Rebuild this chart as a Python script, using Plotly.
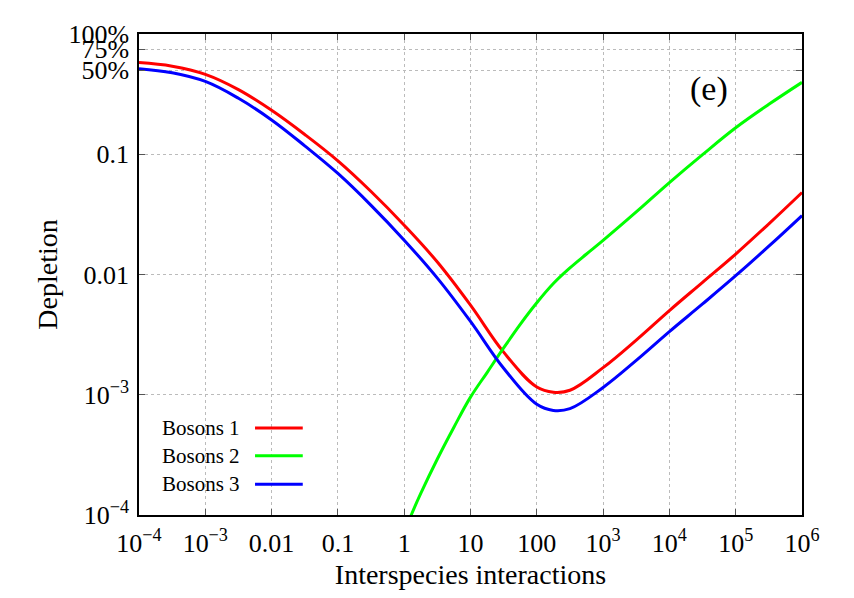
import plotly.graph_objects as go

# readings taken off the reference plot (log-log axes)
x_bosons = [1e-4, 10**-3.5, 1e-3, 10**-2.5, 1e-2, 10**-1.5, 0.1, 10**-0.5, 1,
            10**0.5, 10, 10**1.5, 100, 10**2.25, 10**2.5, 1e3, 10**3.5, 1e4,
            10**4.5, 1e5, 10**5.5, 1e6]
bosons_1 = [0.579, 0.540, 0.462, 0.345, 0.232, 0.146, 0.0881, 0.0490, 0.0257,
            0.0127, 0.00556, 0.00226, 0.00116, 0.00105, 0.00109, 0.00168,
            0.00285, 0.00501, 0.00861, 0.0148, 0.0264, 0.0481]
bosons_3 = [0.515, 0.476, 0.403, 0.292, 0.193, 0.1175, 0.0692, 0.0376, 0.0193,
            0.00933, 0.00407, 0.00166, 0.000832, 0.000741, 0.000767, 0.00115,
            0.00193, 0.00335, 0.00569, 0.00977, 0.0172, 0.0309]

x_bosons_2 = [1, 10**0.113, 10**0.25, 10**0.5, 10**0.75, 10, 10**1.25, 10**1.5,
              10**1.75, 100, 10**2.25, 10**2.5, 10**2.75, 1e3, 10**3.5, 1e4,
              10**4.5, 1e5, 10**5.5, 1e6]
bosons_2 = [7.1e-5, 1.02e-4, 1.51e-4, 2.92e-4, 5.37e-4, 9.55e-4, 0.00153, 0.00245,
            0.00385, 0.00582, 0.00841, 0.01135, 0.0148, 0.0192, 0.0331, 0.0581,
            0.0993, 0.166, 0.260, 0.396]

x_tickvals = [10.0**k for k in range(-4, 7)]
x_ticktext = ["10<sup>−4</sup>", "10<sup>−3</sup>", "0.01", "0.1", "1", "10", "100",
              "10<sup>3</sup>", "10<sup>4</sup>", "10<sup>5</sup>", "10<sup>6</sup>"]
y_tickvals = [1e-4, 1e-3, 0.01, 0.1, 0.5, 0.75, 1]
y_ticktext = ["10<sup>−4</sup>", "10<sup>−3</sup>", "0.01", "0.1", "50%", "75%", "100%"]

names = ["Bosons 1", "Bosons 2", "Bosons 3"]
colors = ["#ff0000", "#00ff00", "#0000ff"]
FONT = "Liberation Serif"

fig = go.Figure()
series = [(x_bosons, bosons_1), (x_bosons_2, bosons_2), (x_bosons, bosons_3)]
for (xs, ys), name, c in zip(series, names, colors):
    fig.add_trace(go.Scatter(x=xs, y=ys, name=name, mode="lines",
                             line=dict(color=c, width=3, shape="spline", smoothing=1.1),
                             showlegend=False))

# gnuplot-style key: label on the left, line sample on the right
legend_rows = [0.181, 0.123, 0.064]
for name, c, yy in zip(names, colors, legend_rows):
    fig.add_annotation(x=0.155, y=yy, xref="paper", yref="paper", text=name,
                       showarrow=False, xanchor="right", yanchor="middle",
                       font=dict(family=FONT, size=21, color="black"))
    fig.add_shape(type="line", xref="paper", yref="paper", x0=0.175, x1=0.247,
                  y0=yy, y1=yy, line=dict(color=c, width=3))

fig.add_annotation(x=0.86, y=0.885, xref="paper", yref="paper", text="(e)",
                   showarrow=False, xanchor="center", yanchor="middle",
                   font=dict(family=FONT, size=34, color="black"))

axis_common = dict(
    type="log", showline=True, linecolor="black", linewidth=1.5, mirror="allticks",
    ticks="inside", ticklen=6, tickcolor="#555555", showgrid=True,
    gridcolor="#bbbbbb", griddash="dot", gridwidth=1, zeroline=False,
    tickfont=dict(family=FONT, size=26, color="black"),
)

fig.update_xaxes(range=[-4, 6], tickvals=x_tickvals, ticktext=x_ticktext,
                 ticklabelstandoff=4,
                 title=dict(text="Interspecies interactions", standoff=7,
                            font=dict(family=FONT, size=28, color="black")),
                 **axis_common)
fig.update_yaxes(range=[-4, 0], tickvals=y_tickvals, ticktext=y_ticktext,
                 ticklabelstandoff=3,
                 title=dict(text="Depletion", standoff=3,
                            font=dict(family=FONT, size=28, color="black")),
                 **axis_common)

# the page body adds an 8px offset, so margins are trimmed to match
fig.update_layout(
    width=854, height=598,
    margin=dict(l=131, r=60, t=20, b=91),
    plot_bgcolor="white", paper_bgcolor="white",
    font=dict(family=FONT, color="black"),
)

fig.write_html("out.html")
